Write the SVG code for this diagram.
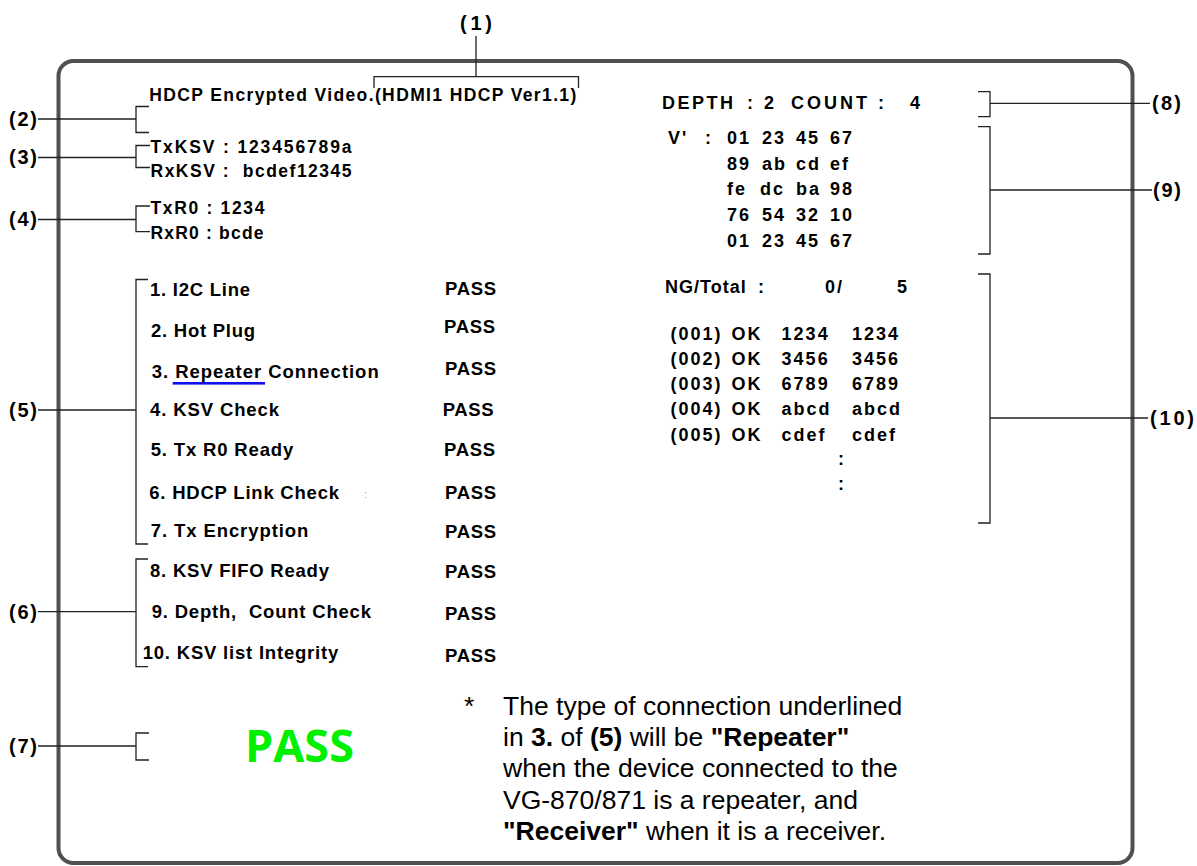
<svg xmlns="http://www.w3.org/2000/svg" width="1197" height="866" viewBox="0 0 1197 866">
<style>
text { font-family: "Liberation Sans", Arial, sans-serif; font-weight: bold; fill: #000; }
.lbl { font-size: 20px; }
.s { font-size: 17.5px; }
.m { font-size: 18.5px; }
.r { font-size: 18px; letter-spacing: 2px; }
.ln { stroke: #222; stroke-width: 1.3; fill: none; }
.note { font-size: 26.5px; font-weight: normal; }
.b { font-weight: bold; }
.big { font-family: "Open Sans", "Liberation Sans", sans-serif; font-size: 44px; font-weight: 700; fill: #00f000; }
</style>
<rect x="0" y="0" width="1197" height="866" fill="#ffffff"/>
<rect id="frame" x="58.5" y="61" width="1074" height="802" rx="15" fill="none" stroke="#505050" stroke-width="4"/>

<g id="connectors" class="ln">
  <path d="M476 36 V76.7 M374 88 V76.7 H578.5 V88"/>
  <path d="M38 119 H136 M149 106.5 H136 V132.5 H149"/>
  <path d="M38 157.5 H136 M150 145.5 H136 V167.5 H150"/>
  <path d="M38 219.5 H136 M150 206 H136 V231.7 H150"/>
  <path d="M38 410 H136 M148 279.5 H136 V544 H148"/>
  <path d="M38 611.7 H136 M148 559 H136 V666.7 H148"/>
  <path d="M38 746 H136 M149 733 H136 V760 H149"/>
  <path d="M978 91.7 H990 V116.7 H978 M990 103.3 H1150"/>
  <path d="M978 126.7 H990 V254 H978 M990 190 H1152"/>
  <path d="M978 274 H990 V523 H978 M990 418 H1148"/>
</g>

<g id="labels" class="lbl">
  <text id="label-1" x="460" y="30" textLength="32" lengthAdjust="spacing">(1)</text>
  <text id="label-2" x="9" y="125.5" textLength="28" lengthAdjust="spacing">(2)</text>
  <text id="label-3" x="9" y="164" textLength="28" lengthAdjust="spacing">(3)</text>
  <text id="label-4" x="9" y="226" textLength="28" lengthAdjust="spacing">(4)</text>
  <text id="label-5" x="9" y="417" textLength="28" lengthAdjust="spacing">(5)</text>
  <text id="label-6" x="9" y="618.5" textLength="28" lengthAdjust="spacing">(6)</text>
  <text id="label-7" x="9" y="752.5" textLength="28" lengthAdjust="spacing">(7)</text>
  <text id="label-8" x="1152" y="110" textLength="29" lengthAdjust="spacing">(8)</text>
  <text id="label-9" x="1153" y="197" textLength="28" lengthAdjust="spacing">(9)</text>
  <text id="label-10" x="1150" y="425" textLength="44" lengthAdjust="spacing">(10)</text>
</g>

<g id="header" class="s">
  <text x="149.3" y="100.5" textLength="427" lengthAdjust="spacing">HDCP Encrypted Video.(HDMI1 HDCP Ver1.1)</text>
</g>

<g id="ksv" class="s">
  <text x="150.5" y="153" textLength="201" lengthAdjust="spacing">TxKSV : 123456789a</text>
  <text x="150.5" y="177" textLength="201" lengthAdjust="spacing" xml:space="preserve">RxKSV :  bcdef12345</text>
</g>

<g id="r0" class="s">
  <text x="150.5" y="214" textLength="114" lengthAdjust="spacing">TxR0 : 1234</text>
  <text x="150.5" y="239" textLength="113" lengthAdjust="spacing">RxR0 : bcde</text>
</g>

<g id="checks" class="m">
  <text x="150" y="296" textLength="100" lengthAdjust="spacing">1. I2C Line</text>
  <text x="151" y="337" textLength="104" lengthAdjust="spacing">2. Hot Plug</text>
  <text x="151.7" y="377.7" textLength="227" lengthAdjust="spacing">3. Repeater Connection</text>
  <text x="150" y="416" textLength="129" lengthAdjust="spacing">4. KSV Check</text>
  <text x="150.7" y="456" textLength="142.6" lengthAdjust="spacing">5. Tx R0 Ready</text>
  <text x="149.3" y="498.7" textLength="189.7" lengthAdjust="spacing">6. HDCP Link Check</text>
  <text x="150.7" y="537.3" textLength="157.6" lengthAdjust="spacing">7. Tx Encryption</text>
  <text x="150" y="576.7" textLength="179" lengthAdjust="spacing">8. KSV FIFO Ready</text>
  <text x="151.7" y="618.3" textLength="219.3" lengthAdjust="spacing" xml:space="preserve">9. Depth,  Count Check</text>
  <text x="142.7" y="659" textLength="195.6" lengthAdjust="spacing">10. KSV list Integrity</text>
  <rect x="172.7" y="382" width="92.3" height="2.6" fill="#1010e8"/>
  <text x="364" y="498" style="font-size:11px;fill:#7d9fd8;font-weight:normal">:</text>
</g>

<g id="results" class="m">
  <text x="445" y="295" textLength="51" lengthAdjust="spacing">PASS</text>
  <text x="444" y="333.3" textLength="51" lengthAdjust="spacing">PASS</text>
  <text x="445" y="374.7" textLength="51" lengthAdjust="spacing">PASS</text>
  <text x="442.7" y="416" textLength="51" lengthAdjust="spacing">PASS</text>
  <text x="444" y="456" textLength="51" lengthAdjust="spacing">PASS</text>
  <text x="445" y="499.3" textLength="51" lengthAdjust="spacing">PASS</text>
  <text x="445" y="538.3" textLength="51" lengthAdjust="spacing">PASS</text>
  <text x="445" y="578.3" textLength="51" lengthAdjust="spacing">PASS</text>
  <text x="445" y="620" textLength="51" lengthAdjust="spacing">PASS</text>
  <text x="445" y="661.7" textLength="51" lengthAdjust="spacing">PASS</text>
</g>

<g id="depth-count" class="r">
  <text y="109.3"><tspan x="662" style="letter-spacing:2.5px">DEPTH</tspan><tspan x="747">:</tspan><tspan x="764">2</tspan><tspan x="791" style="letter-spacing:3px">COUNT</tspan><tspan x="878">:</tspan><tspan x="910">4</tspan></text>
</g>

<g id="vprime" class="r">
  <text y="144"><tspan x="668">V'</tspan><tspan x="705">:</tspan><tspan x="727">01</tspan><tspan x="762">23</tspan><tspan x="796">45</tspan><tspan x="830">67</tspan></text>
  <text y="170"><tspan x="727">89</tspan><tspan x="762">ab</tspan><tspan x="796">cd</tspan><tspan x="830">ef</tspan></text>
  <text y="195"><tspan x="727">fe</tspan><tspan x="760">dc</tspan><tspan x="796">ba</tspan><tspan x="830">98</tspan></text>
  <text y="221"><tspan x="727">76</tspan><tspan x="762">54</tspan><tspan x="796">32</tspan><tspan x="830">10</tspan></text>
  <text y="246.5"><tspan x="727">01</tspan><tspan x="762">23</tspan><tspan x="796">45</tspan><tspan x="830">67</tspan></text>
</g>

<g id="ksv-list" class="r">
  <text y="293"><tspan x="665" style="letter-spacing:1px">NG/Total</tspan><tspan x="758">:</tspan><tspan x="825">0/</tspan><tspan x="897">5</tspan></text>
  <text y="340"><tspan x="670.4">(001)</tspan><tspan x="731.4">OK</tspan><tspan x="781.6">1234</tspan><tspan x="852">1234</tspan></text>
  <text y="365"><tspan x="670.4">(002)</tspan><tspan x="731.4">OK</tspan><tspan x="781.6">3456</tspan><tspan x="852">3456</tspan></text>
  <text y="390"><tspan x="670.4">(003)</tspan><tspan x="731.4">OK</tspan><tspan x="781.6">6789</tspan><tspan x="852">6789</tspan></text>
  <text y="415"><tspan x="670.4">(004)</tspan><tspan x="731.4">OK</tspan><tspan x="781.6">abcd</tspan><tspan x="852">abcd</tspan></text>
  <text y="440.5"><tspan x="670.4">(005)</tspan><tspan x="731.4">OK</tspan><tspan x="781.6">cdef</tspan><tspan x="852">cdef</tspan></text>
  <text x="838" y="465">:</text>
  <text x="838" y="490">:</text>
</g>

<g id="final-result">
  <text class="big" x="245" y="762.3" textLength="109" lengthAdjust="spacingAndGlyphs">PASS</text>
</g>

<g id="note" class="note">
  <text class="note" x="464" y="715">*</text>
  <text class="note" x="503" y="715">The type of connection underlined</text>
  <text class="note" x="503" y="746.2">in <tspan class="b">3.</tspan> of <tspan class="b">(5)</tspan> will be <tspan class="b">"Repeater"</tspan></text>
  <text class="note" x="503" y="777.4">when the device connected to the</text>
  <text class="note" x="503" y="808.6">VG-870/871 is a repeater, and</text>
  <text class="note" x="503" y="839.8"><tspan class="b">"Receiver"</tspan> when it is a receiver.</text>
</g>
</svg>
